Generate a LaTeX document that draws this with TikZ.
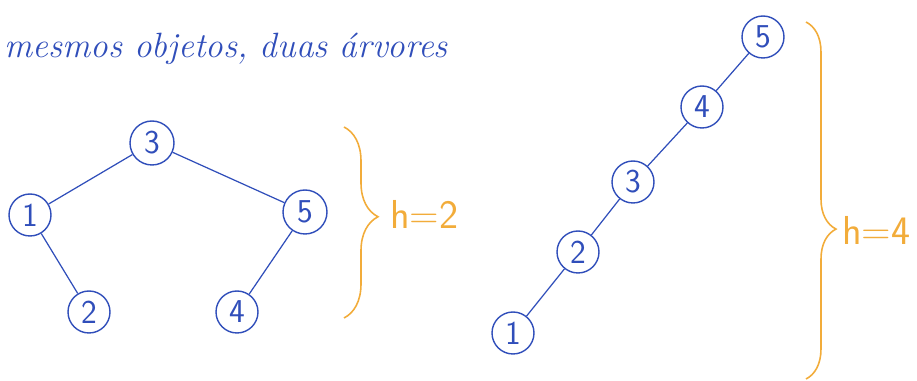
\documentclass[tikz,border=0pt]{standalone}
\usepackage{tikz}
\usetikzlibrary{positioning, calc, decorations.pathreplacing}
\definecolor{pen}{RGB}{48, 78, 186}
\definecolor{marker}{RGB}{242, 172, 58}

\begin{document}
\begin{tikzpicture}[
    x=0.02cm, y=-0.02cm, % one unit is one pixel of the sketch
    every node/.style={font=\sffamily},
    vertice/.style={circle, draw=pen, line width=0.8pt, text=pen,
                    minimum size=0.84cm, inner sep=0pt, font=\sffamily\fontsize{19}{22}\selectfont},
    ramo/.style={draw=pen, line width=0.7pt},
    chave/.style={draw=marker, line width=0.9pt, decorate},
    altura/.style={text=marker, anchor=west, inner sep=0pt, font=\sffamily\fontsize{23}{28}\selectfont}
]
\useasboundingbox (0,0) rectangle (917,381);

% Title
\node[text=pen, anchor=base west, inner sep=0pt, font=\itshape\fontsize{20}{24}\selectfont]
    (titulo) at (4,58) {mesmos objetos, duas árvores};

% Balanced tree
\node[vertice, minimum size=0.88cm] (a3) at (152,143) {3};
\node[vertice] (a1) at (30,215)  {1};
\node[vertice, minimum size=0.88cm] (a5) at (305,212) {5};
\node[vertice] (a2) at (89,312)  {2};
\node[vertice] (a4) at (237,312) {4};

\draw[ramo] (a3) -- (a1);
\draw[ramo] (a3) -- (a5);
\draw[ramo] (a1) -- (a2);
\draw[ramo] (a5) -- (a4);

\coordinate (ca) at (344,127);
\coordinate (cb) at (344,318);
\draw[chave, decoration={brace, amplitude=0.68cm, aspect=0.47}] (ca) -- (cb);
\node[altura] (h2) at (390,214) {h=2};

% Degenerate tree
\node[vertice] (b5) at (763,37)  {5};
\node[vertice] (b4) at (702,107) {4};
\node[vertice] (b3) at (633,182) {3};
\node[vertice] (b2) at (578,252) {2};
\node[vertice] (b1) at (513,333) {1};

\draw[ramo] (b5) -- (b4);
\draw[ramo] (b4) -- (b3);
\draw[ramo] (b3) -- (b2);
\draw[ramo] (b2) -- (b1);

\coordinate (cc) at (806,22);
\coordinate (cd) at (806,379);
\draw[chave, decoration={brace, amplitude=0.6cm, aspect=0.58}] (cc) -- (cd);
\node[altura] (h4) at (842,230) {h=4};

\end{tikzpicture}
\end{document}
